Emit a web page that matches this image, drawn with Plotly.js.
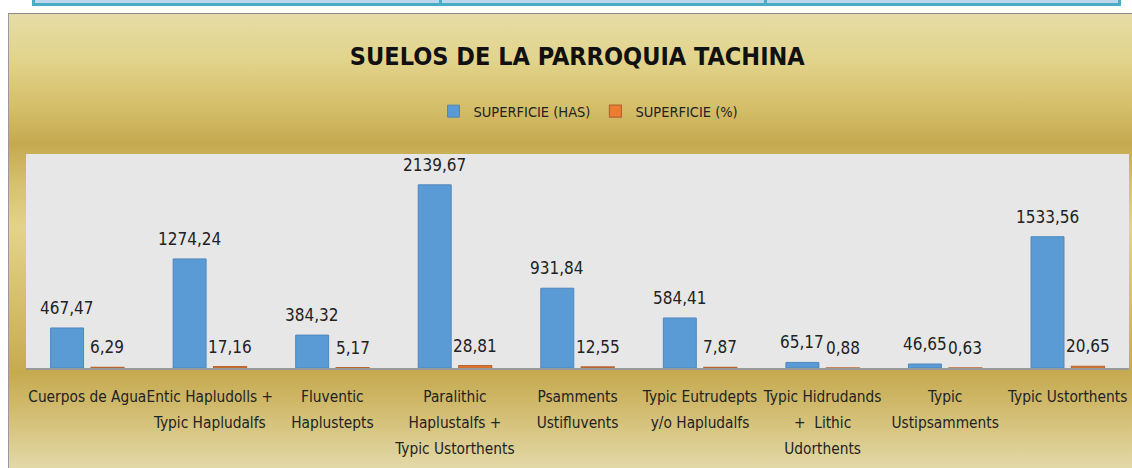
<!DOCTYPE html>
<html>
<head>
<meta charset="utf-8">
<script src="https://cdn.plot.ly/plotly-3.0.1.min.js"></script>
<style>
  html, body { margin:0; padding:0; background:#ffffff; width:1132px; height:468px; overflow:hidden; }
  #strip { position:absolute; left:32px; top:0px; width:1083px; height:3px; background:#bdd7ee;
           border-left:3px solid #4bacc6; border-right:3px solid #4bacc6; border-bottom:3px solid #4bacc6; }
  .div1 { position:absolute; top:0px; width:3px; height:6px; background:#4bacc6; }
  #bg { position:absolute; left:8px; top:13px; width:1124px; height:455px;
        border-top:1px solid #8a8a8a; border-left:1px solid #9a9a9a; box-sizing:border-box;
        background: linear-gradient(to bottom,
          #e6dca8 0%, #e5daa0 2%, #e2d48c 10%, #d4bd68 21%, #c5a950 28.5%,
          #d6c272 38%, #e3d38a 47%, #d8c373 60%, #cdb35c 72.5%, #c6aa50 79%,
          #d2bd72 88%, #e3d9a8 100%); }
  #chart { position:absolute; left:0; top:0; width:1132px; height:468px; }
</style>
</head>
<body>
<div id="strip"></div>
<div class="div1" style="left:439px"></div>
<div class="div1" style="left:764px"></div>
<div id="bg"></div>
<div id="chart"></div>
<script>
// ---- data ----
const categories = [
  "Cuerpos de Agua",
  "Entic Hapludolls +<br>Typic Hapludalfs",
  "Fluventic<br>Haplustepts",
  "Paralithic<br>Haplustalfs +<br>Typic Ustorthents",
  "Psamments<br>Ustifluvents",
  "Typic Eutrudepts<br>y/o Hapludalfs",
  "Typic Hidrudands<br>+  Lithic<br>Udorthents",
  "Typic<br>Ustipsamments",
  "Typic Ustorthents"
];
const superficieHas = [467.47, 1274.24, 384.32, 2139.67, 931.84, 584.41, 65.17, 46.65, 1533.56];
const superficiePct = [6.29, 17.16, 5.17, 28.81, 12.55, 7.87, 0.88, 0.63, 20.65];
const seriesNames = ["SUPERFICIE (HAS)", "SUPERFICIE (%)"];
const chartTitle = "SUELOS DE LA PARROQUIA TACHINA";

// ---- styling ----
const FONT = "'Liberation Sans Narrow', 'Arial Narrow', 'DejaVu Sans Condensed', sans-serif";
const fmt = v => v.toFixed(2).replace('.', ',');
const xs = categories.map((c, i) => i);
const tickText = categories.map(c => c.split('<br>').map(l => '<span style="font-size:15.3px">' + l + '</span>').join('<br>'));

const traces = [
  { type:'bar', name:seriesNames[0], x:xs, y:superficieHas,
    marker:{ color:'#5b9bd5', line:{ color:'#4f87bd', width:1 } }, hoverinfo:'y' },
  { type:'bar', name:seriesNames[1], x:xs, y:superficiePct,
    marker:{ color:'#ed7d31', line:{ color:'#b9652f', width:1.2 } }, hoverinfo:'y' }
];

const slotShift = 20.2;
const annotations = [];
superficieHas.forEach((v, i) => annotations.push({
  x:i, y:v, xref:'x', yref:'y', text:fmt(v), showarrow:false, xanchor:'center', yanchor:'bottom',
  xshift:-slotShift, yshift:8, font:{ family:FONT, size:17, color:'#222222' } }));
superficiePct.forEach((v, i) => annotations.push({
  x:i, y:v, xref:'x', yref:'y', text:fmt(v), showarrow:false, xanchor:'center', yanchor:'bottom',
  xshift:slotShift, yshift:8, font:{ family:FONT, size:17, color:'#222222' } }));

const layout = {
  width:1132, height:468,
  margin:{ l:26, r:3, t:154, b:100, pad:0 },
  paper_bgcolor:'rgba(0,0,0,0)',
  plot_bgcolor:'#e7e7e7',
  font:{ family:FONT, color:'#222222' },
  title:{ text:'<b>' + chartTitle + '</b>', x:0.51, xanchor:'center', y:1 - 56/468, yanchor:'middle',
          yref:'container', font:{ family:FONT, size:25, color:'#111111' } },
  showlegend:true,
  legend:{ orientation:'h', x:0.51, xanchor:'center', y:1.2, yanchor:'middle',
           font:{ family:FONT, size:14.5, color:'#222222' }, bgcolor:'rgba(0,0,0,0)', itemwidth:30 },
  barmode:'group', bargap:0.34, bargroupgap:0.185,
  xaxis:{ type:'linear', range:[-0.5, categories.length - 0.5], tickmode:'array', tickvals:xs, ticktext:tickText,
          tickangle:0, tickfont:{ family:FONT, size:20, color:'#222222' }, ticks:'', ticklabelstandoff:8,
          showline:true, linecolor:'#9a9a9a', linewidth:1.5, showgrid:false, zeroline:false, fixedrange:true },
  yaxis:{ range:[0, 2500], visible:false, showgrid:false, zeroline:false, fixedrange:true },
  annotations:annotations
};

Plotly.newPlot('chart', traces, layout, { displayModeBar:false, staticPlot:true });
</script>
</body>
</html>
